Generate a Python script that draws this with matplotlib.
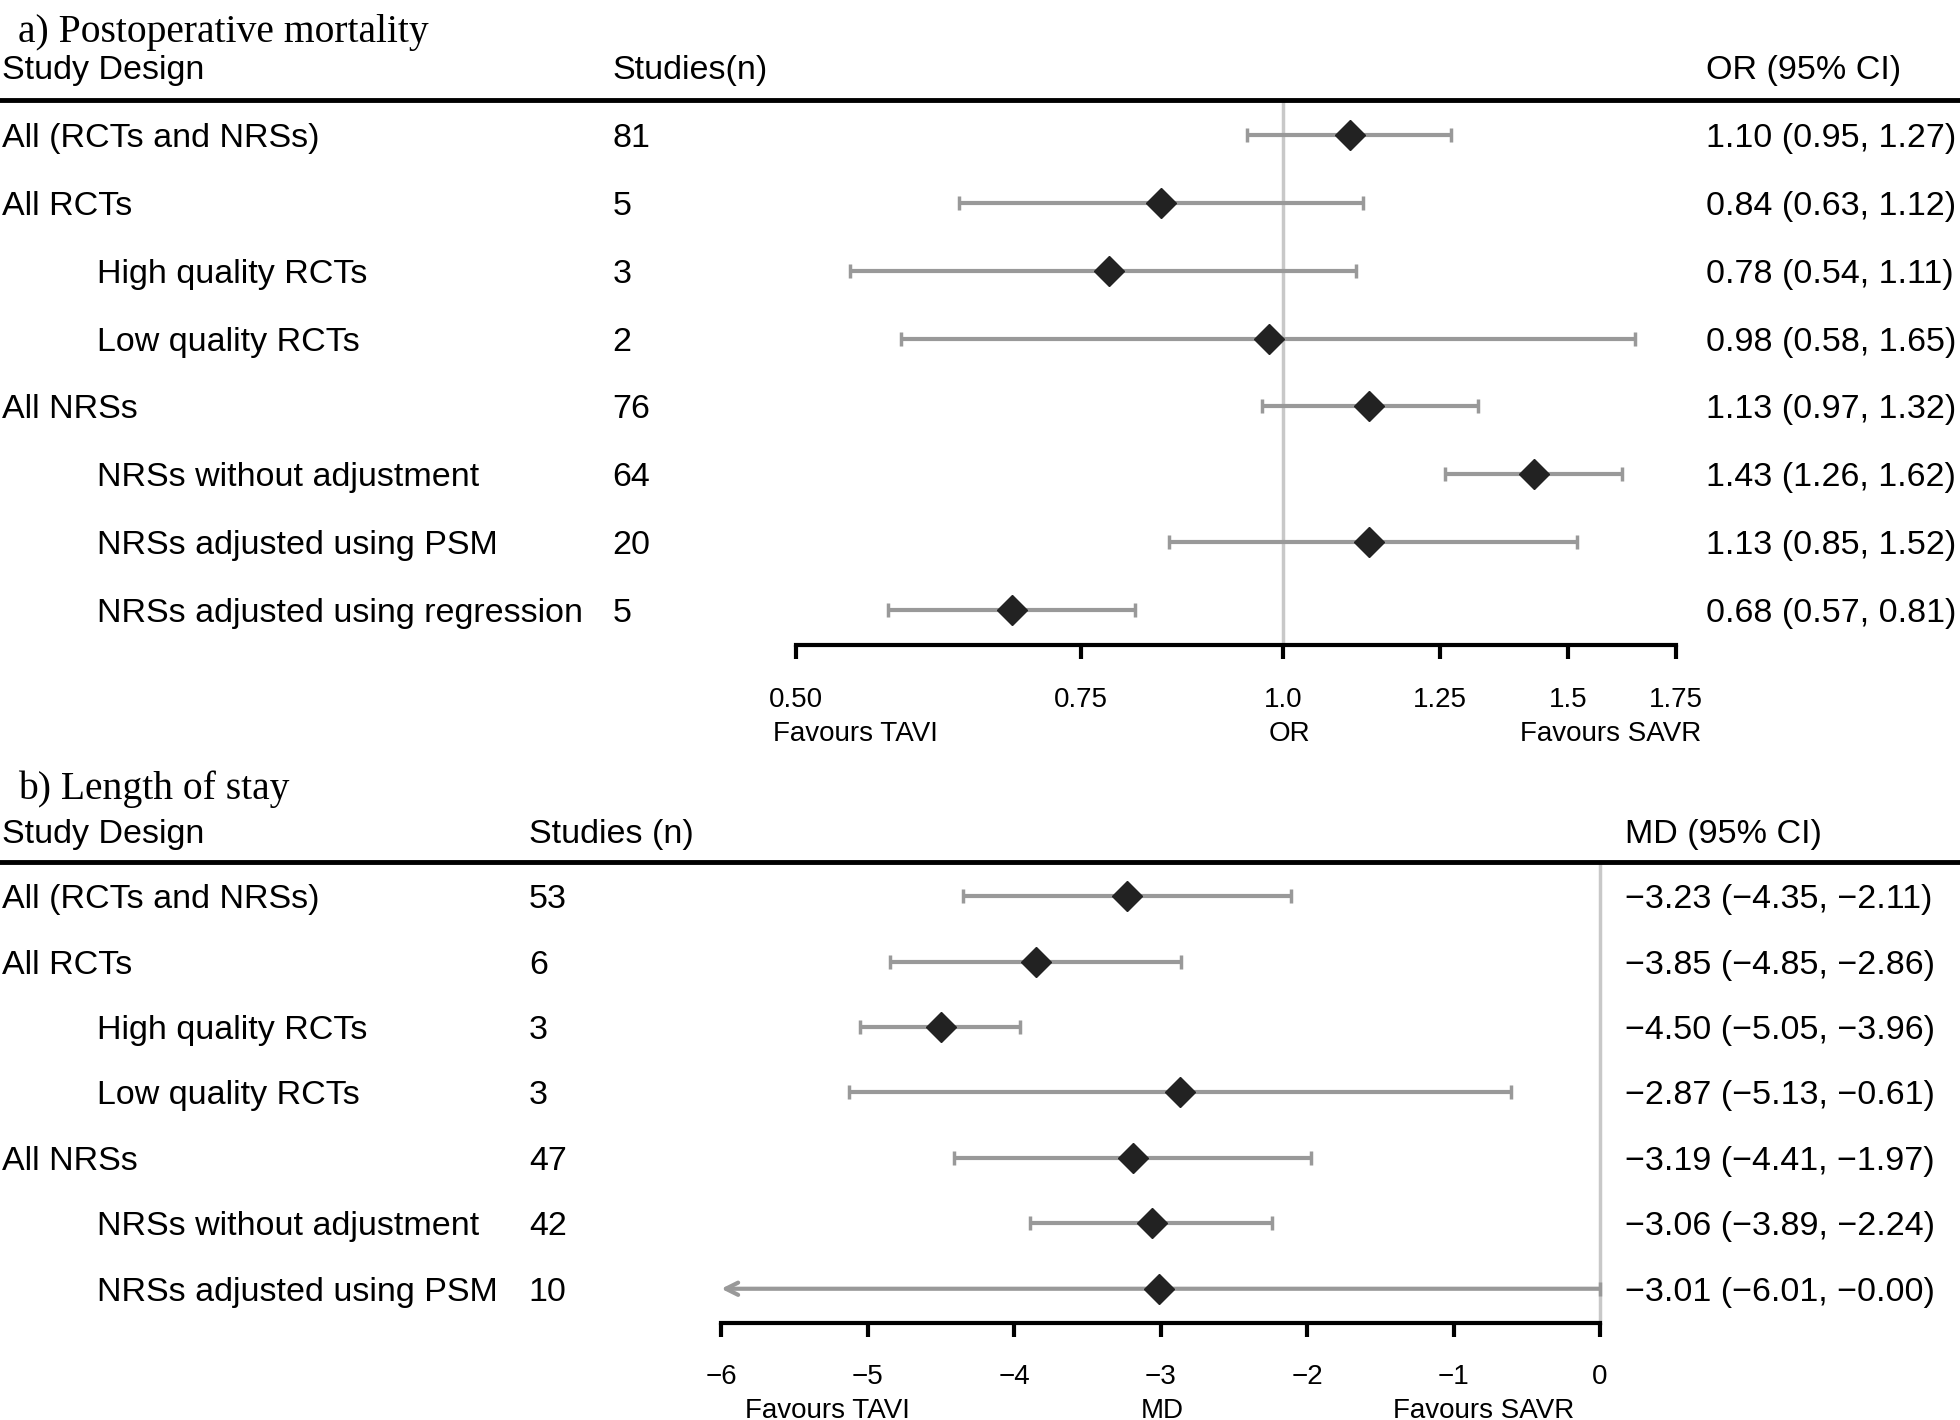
import numpy as np
import matplotlib
matplotlib.use('Agg')
import matplotlib.pyplot as plt
from matplotlib.lines import Line2D
from matplotlib.transforms import blended_transform_factory

plt.rcParams['font.family'] = ['Liberation Sans', 'DejaVu Sans']

# ---- panel a: postoperative mortality (OR, log scale) ----
a_labels = ["All (RCTs and NRSs)", "All RCTs", "High quality RCTs", "Low quality RCTs",
            "All NRSs", "NRSs without adjustment", "NRSs adjusted using PSM",
            "NRSs adjusted using regression"]
a_indent = [0, 0, 1, 1, 0, 1, 1, 1]
a_n = [81, 5, 3, 2, 76, 64, 20, 5]
a_est = [1.10, 0.84, 0.78, 0.98, 1.13, 1.43, 1.13, 0.68]
a_lo = [0.95, 0.63, 0.54, 0.58, 0.97, 1.26, 0.85, 0.57]
a_hi = [1.27, 1.12, 1.11, 1.65, 1.32, 1.62, 1.52, 0.81]
a_ticks = [0.50, 0.75, 1.0, 1.25, 1.5, 1.75]
a_ticklabels = ["0.50", "0.75", "1.0", "1.25", "1.5", "1.75"]

# ---- panel b: length of stay (MD, linear) ----
b_labels = ["All (RCTs and NRSs)", "All RCTs", "High quality RCTs", "Low quality RCTs",
            "All NRSs", "NRSs without adjustment", "NRSs adjusted using PSM"]
b_indent = [0, 0, 1, 1, 0, 1, 1]
b_n = [53, 6, 3, 3, 47, 42, 10]
b_est = [-3.23, -3.85, -4.50, -2.87, -3.19, -3.06, -3.01]
b_lo = [-4.35, -4.85, -5.05, -5.13, -4.41, -3.89, -6.01]
b_hi = [-2.11, -2.86, -3.96, -0.61, -1.97, -2.24, -0.00]
b_ticks = [-6, -5, -4, -3, -2, -1, 0]

CI_GREY = '#999999'
REF_GREY = '#c8c8c8'
DIAMOND = '#222222'
FS = 24.5
FS_AX = 20


def fmt(v):
    s = f'{v:.2f}'
    if s.startswith('-'):
        s = '\u2212' + s[1:]
    return s


def forest(fig, rect, labels, indent, n, est, lo, hi, xlim, ticks, ticklabels,
           logx, title, title_y, cols, headers, ref, axlabels):
    ax = fig.add_axes(rect)
    k = len(labels)
    y = np.arange(k)
    est, lo, hi = map(np.asarray, (est, lo, hi))
    if logx:
        ax.set_xscale('log')
    ax.set_xlim(*xlim)
    ax.set_ylim(k - 1 + 0.516, -0.516)

    ax.axvline(ref, color=REF_GREY, lw=2.5, zorder=0, clip_on=False)

    inside = lo >= xlim[0]
    ax.errorbar(est[inside], y[inside],
                xerr=[est[inside] - lo[inside], hi[inside] - est[inside]],
                fmt='none', ecolor=CI_GREY, elinewidth=3, capsize=5, capthick=2.5,
                zorder=1)
    for i in np.where(~inside)[0]:
        # CI runs past the axis: arrow to the edge
        ax.annotate('', xy=(xlim[0], y[i]), xytext=(hi[i], y[i]),
                    arrowprops=dict(arrowstyle='->', color=CI_GREY, lw=3,
                                    shrinkA=0, shrinkB=0, mutation_scale=22),
                    zorder=1)
        ax.plot([hi[i]], [y[i]], marker='|', ms=10, mew=2.5, color=CI_GREY,
                zorder=1, clip_on=False)
    ax.plot(est, y, 'D', color=DIAMOND, ms=15, zorder=3, clip_on=False)

    for s in ['top', 'right', 'left']:
        ax.spines[s].set_visible(False)
    ax.spines['bottom'].set_linewidth(3)
    ax.set_yticks([])
    ax.set_xticks(ticks)
    ax.set_xticklabels(ticklabels)
    ax.xaxis.set_minor_locator(matplotlib.ticker.NullLocator())
    ax.tick_params(axis='x', direction='out', length=10, width=3, pad=20,
                   labelsize=FS_AX)

    for fx, txt in axlabels:
        ax.annotate(txt, xy=(fx, 0), xycoords='axes fraction', xytext=(0, -64),
                    textcoords='offset points', ha='center', va='center',
                    fontsize=FS_AX, annotation_clip=False)

    tr = blended_transform_factory(fig.transFigure, ax.transData)
    x_lab0, x_lab1, x_n, x_ci = cols
    for i in range(k):
        ax.text(x_lab1 if indent[i] else x_lab0, y[i], labels[i], transform=tr,
                ha='left', va='center_baseline', fontsize=FS)
        ax.text(x_n, y[i], str(n[i]), transform=tr, ha='left',
                va='center_baseline', fontsize=FS)
        ax.text(x_ci, y[i], f'{fmt(est[i])} ({fmt(lo[i])}, {fmt(hi[i])})',
                transform=tr, ha='left', va='center_baseline', fontsize=FS)
    for x, h in zip((x_lab0, x_n, x_ci), headers):
        ax.text(x, -1.0, h, transform=tr, ha='left', va='center_baseline', fontsize=FS)

    top = rect[1] + rect[3]
    fig.add_artist(Line2D([0, 1], [top, top], transform=fig.transFigure,
                          color='black', lw=3.5))
    fig.text(0.009, title_y, title, fontsize=28.5, family='Liberation Serif',
             ha='left', va='center_baseline')
    return ax


fig = plt.figure(figsize=(19.6, 14.2), dpi=100)

forest(fig, [0.40625, 0.5458, 0.44898, 0.3838], a_labels, a_indent, a_n,
       a_est, a_lo, a_hi, (0.5, 1.75), a_ticks, a_ticklabels, True,
       'a) Postoperative mortality', 0.9805,
       (0.001, 0.0497, 0.3125, 0.8705), ('Study Design', 'Studies(n)', 'OR (95% CI)'),
       1.0, [(0.067, 'Favours TAVI'), (0.56, 'OR'), (0.925, 'Favours SAVR')])

forest(fig, [0.36798, 0.06866, 0.44835, 0.32395], b_labels, b_indent, b_n,
       b_est, b_lo, b_hi, (-6, 0), b_ticks, [fmt(t).replace('.00', '') for t in b_ticks],
       False, 'b) Length of stay', 0.4475,
       (0.001, 0.0497, 0.2698, 0.829), ('Study Design', 'Studies (n)', 'MD (95% CI)'),
       0.0, [(0.121, 'Favours TAVI'), (0.502, 'MD'), (0.868, 'Favours SAVR')])

fig.savefig('out.png', dpi=100)
